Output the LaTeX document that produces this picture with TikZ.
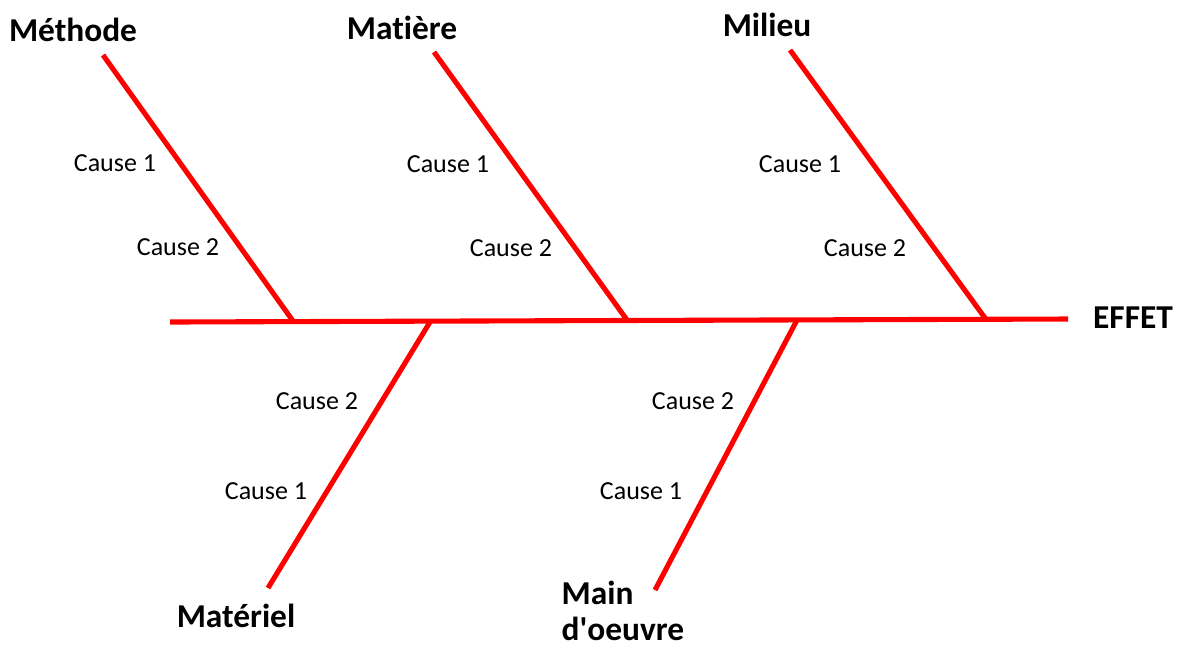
\documentclass[tikz,border=0pt]{standalone}
\usepackage{fontspec}
\setmainfont[Ligatures=NoCommon]{Carlito}
\tikzset{
  bone/.style={draw=red,line width=1.45pt},
  cat/.style={font=\fontsize{9.5}{10.2}\selectfont\bfseries,inner sep=0pt},
  cause/.style={font=\fontsize{7.4}{8}\selectfont,inner sep=0pt}
}
\begin{document}
\begin{tikzpicture}[x=0.1mm,y=-0.1mm]
      \useasboundingbox (0,0) rectangle (1186,645);
      % spine and branch end points
      \coordinate (tail) at (170,322);
      \coordinate (head) at (1068,319);
      \coordinate (m1) at (103,55);   \coordinate (j1) at (293,321);
      \coordinate (m2) at (434,52);   \coordinate (j2) at (627,320);
      \coordinate (m3) at (790,50);   \coordinate (j3) at (985,318);
      \coordinate (m4) at (268,588);  \coordinate (j4) at (430,322);
      \coordinate (m5) at (655,590);  \coordinate (j5) at (797,320);
      % category labels
      \draw
        (73,30) node[cat] (methode){Méthode}
        (402,28) node[cat] (matiere){Matière}
        (767,25) node[cat] (milieu){Milieu}
        (1133,318) node[cat] (effet){EFFET}
        (236,616) node[cat] (materiel){Matériel}
        (561,611) node[cat,anchor=west,align=left] (main){Main\\d\textquotesingle oeuvre};
      % causes
      \draw
        (115,163) node[cause] (c11){Cause 1}
        (178,247) node[cause] (c12){Cause 2}
        (448,164) node[cause] (c21){Cause 1}
        (511,248) node[cause] (c22){Cause 2}
        (800,164) node[cause] (c31){Cause 1}
        (865,248) node[cause] (c32){Cause 2}
        (317,401) node[cause] (c42){Cause 2}
        (266,491) node[cause] (c41){Cause 1}
        (693,401) node[cause] (c52){Cause 2}
        (641,491) node[cause] (c51){Cause 1};
      \begin{scope}[bone]
        \draw (tail) to (head);
        \draw (m1) to (j1);
        \draw (m2) to (j2);
        \draw (m3) to (j3);
        \draw (m4) to (j4);
        \draw (m5) to (j5);
      \end{scope}
    \end{tikzpicture}
\end{document}
